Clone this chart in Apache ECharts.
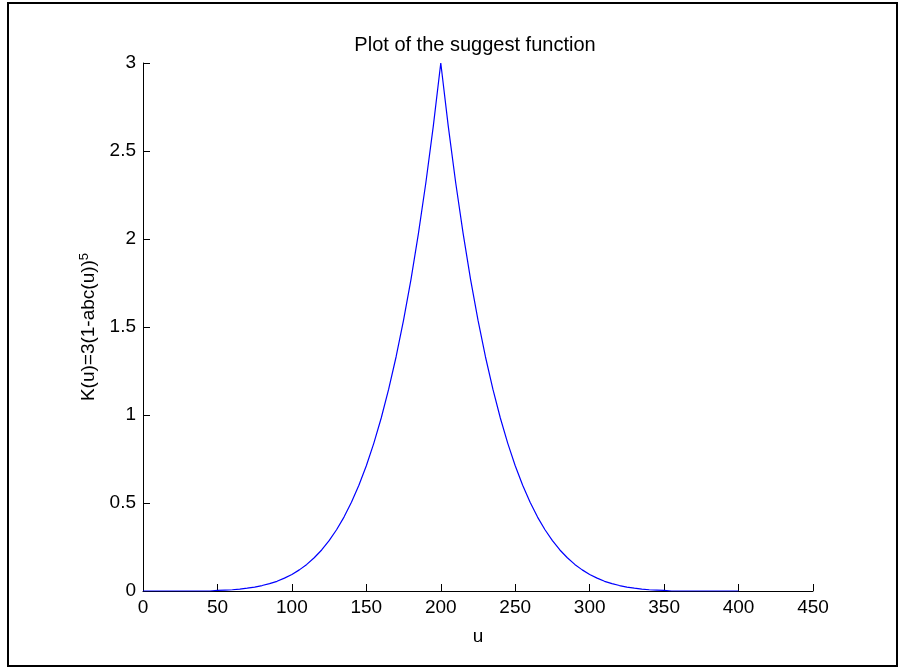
<!DOCTYPE html>
<html>
<head>
<meta charset="utf-8">
<script src="https://cdn.jsdelivr.net/npm/echarts@6/dist/echarts.min.js"></script>
<style>
html,body{margin:0;padding:0;background:#fff;}
#chart{width:903px;height:669px;}
</style>
</head>
<body>
<div id="chart"></div>
<script>
// values
var uValues = [0,5,10,15,20,25,30,35,40,45,50,55,60,65,70,75,80,85,90,95,
  100,105,110,115,120,125,130,135,140,145,150,155,160,165,170,175,180,185,190,195,
  200,205,210,215,220,225,230,235,240,245,250,255,260,265,270,275,280,285,290,295,
  300,305,310,315,320,325,330,335,340,345,350,355,360,365,370,375,380,385,390,395,400];
var kValues = [
  0,0,0,0,0,0,0,0,0,0,
  0.003,0.005,0.007,0.011,0.016,0.022,0.031,0.042,0.055,0.073,
  0.094,0.12,0.151,0.189,0.233,0.286,0.348,0.42,0.504,0.601,
  0.712,0.839,0.983,1.147,1.331,1.539,1.771,2.032,2.321,2.643,
  3,
  2.643,2.321,2.032,1.771,1.539,1.331,1.147,0.983,0.839,0.712,
  0.601,0.504,0.42,0.348,0.286,0.233,0.189,0.151,0.12,0.094,
  0.073,0.055,0.042,0.031,0.022,0.016,0.011,0.007,0.005,0.003,
  0,0,0,0,0,0,0,0,0,0];
var xTicks = [0,50,100,150,200,250,300,350,400,450];
var yTicks = [0,0.5,1,1.5,2,2.5,3];
var titleText = 'Plot of the suggest function';
var xName = 'u';

var chart = echarts.init(document.getElementById('chart'), null, {renderer:'canvas'});
var pts = [];
for (var i = 0; i < uValues.length && i < kValues.length; i++) pts.push([uValues[i], kValues[i]]);
var font = '"Liberation Sans", Arial, sans-serif';
chart.setOption({
  animation:false,
  backgroundColor:'#fff',
  textStyle:{fontFamily:font},
  title:{text:titleText, left:470, top:30, textAlign:'center',
    textStyle:{fontSize:20, fontWeight:'normal', color:'#000', fontFamily:font}},
  grid:{left:143, right:90, top:63, bottom:78, containLabel:false},
  xAxis:{type:'value', min:xTicks[0], max:xTicks[xTicks.length-1], interval:50,
    name:xName, nameLocation:'middle', nameGap:36,
    nameTextStyle:{fontSize:19, color:'#000', fontFamily:font},
    axisLine:{lineStyle:{color:'#000', width:1}},
    axisTick:{inside:true, length:7, lineStyle:{color:'#000'}},
    axisLabel:{fontSize:19, color:'#000', margin:7, fontFamily:font},
    splitLine:{show:false}},
  yAxis:{type:'value', min:yTicks[0], max:yTicks[yTicks.length-1], interval:0.5,
    name:'{a|K(u)=3(1-abc(u))}{b|5}', nameLocation:'middle', nameGap:44, nameRotate:90,
    nameTextStyle:{color:'#000', fontFamily:font,
      rich:{a:{fontSize:19, color:'#000', fontFamily:font},
            b:{fontSize:13, color:'#000', fontFamily:font, verticalAlign:'top', padding:[0,0,8,0]}}},
    axisLine:{show:true, lineStyle:{color:'#000', width:1}},
    axisTick:{show:true, inside:true, length:7, lineStyle:{color:'#000'}},
    axisLabel:{fontSize:19, color:'#000', margin:7, fontFamily:font},
    splitLine:{show:false}},
  series:[{type:'line', data:pts, showSymbol:false, symbol:'none',
    lineStyle:{color:'#0000ff', width:1.2}, z:5}],
  graphic:[{type:'rect', shape:{x:8, y:3, width:889, height:663}, z:100,
    style:{fill:'none', stroke:'#000', lineWidth:2}}]
});
</script>
</body>
</html>
